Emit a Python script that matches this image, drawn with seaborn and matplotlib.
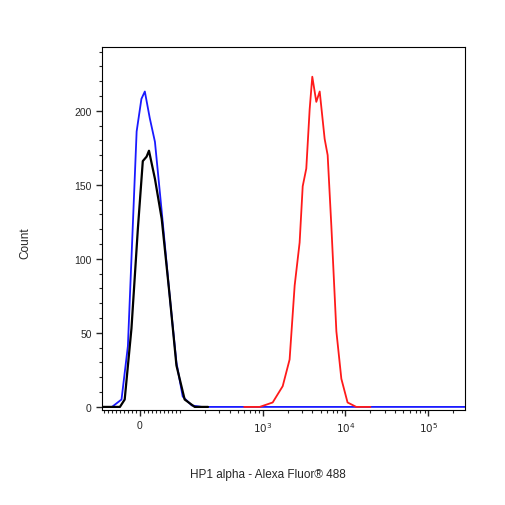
import numpy as np
import pandas as pd
import seaborn as sns
import matplotlib.pyplot as plt
from matplotlib.ticker import FixedLocator

# values (fluorescence, count)
blue_x = [-95, -70, -46, -30, -18, -8, 4, 12.6, 25, 38, 55, 75, 92, 109, 140, 185, 275000]
blue_y = [0, 0, 5, 41, 120, 186, 208, 213, 195, 179, 132, 75, 30, 7, 1, 0, 0]
black_x = [-95, -50, -38, -21, -5, 7.5, 17, 23, 38, 55, 75, 92, 115, 152, 220]
black_y = [0, 0, 5, 53, 120, 166, 169, 173, 154, 127, 75, 28, 5, 0, 0]
red_x = [600, 925, 1325, 1750, 2120, 2440, 2800, 3050, 3370, 3700, 3980, 4450, 4890,
         5610, 6100, 6760, 7770, 8920, 10600, 13500, 20000]
red_y = [0, 0, 3, 14, 32, 82, 111, 149, 161, 201, 223, 206, 213, 181, 170, 122, 51,
         19, 3, 0, 0]

sns.set_style("white")
plt.rcParams['font.family'] = ['Liberation Sans', 'DejaVu Sans']
fig = plt.figure(figsize=(5.06, 5.06), dpi=100)
ax = fig.add_axes([0.2016, 0.188, 0.717, 0.717])

for xs, ys, c in [(blue_x, blue_y, "#1a1aff"), (red_x, red_y, "#ff1a1a"), (black_x, black_y, "black")]:
    df = pd.DataFrame({"x": xs, "y": ys})
    sns.lineplot(data=df, x="x", y="y", sort=False, color=c, lw=1.6 if c == "black" else 1.3, ax=ax)

ax.set_xscale("symlog", linthresh=100, linscale=0.432)
ax.set_xlim(-95, 275000)
ax.set_ylim(-2, 243)

ax.xaxis.set_major_locator(FixedLocator([0, 1000, 10000, 100000]))
ax.set_xticklabels(["0", r"$10^3$", r"$10^4$", r"$10^5$"])
minors = list(range(-90, 0, 10)) + list(range(10, 110, 10))
for d in [100, 1000, 10000, 100000]:
    minors += [d * k for k in range(2, 10) if d * k < 275000]
ax.xaxis.set_minor_locator(FixedLocator(minors))
ax.set_yticks([0, 50, 100, 150, 200])
ax.yaxis.set_minor_locator(FixedLocator(list(range(10, 241, 10))))

ax.tick_params(which="major", direction="out", length=4, width=1, labelsize=7.5,
               bottom=True, left=True)
ax.tick_params(which="minor", direction="out", length=2.5, width=0.8, bottom=True, left=True)
for s in ax.spines.values():
    s.set_color("black")
    s.set_linewidth(0.8)

ax.set_xlabel("")
ax.set_ylabel("")
fig.text(0.05, 0.52, "Count", rotation=90, fontsize=8.5, va="center", ha="center")
fig.text(0.53, 0.061, "HP1 alpha - Alexa Fluor\u00ae 488", fontsize=8.5, ha="center", va="center")

fig.savefig("out.png", dpi=100)
